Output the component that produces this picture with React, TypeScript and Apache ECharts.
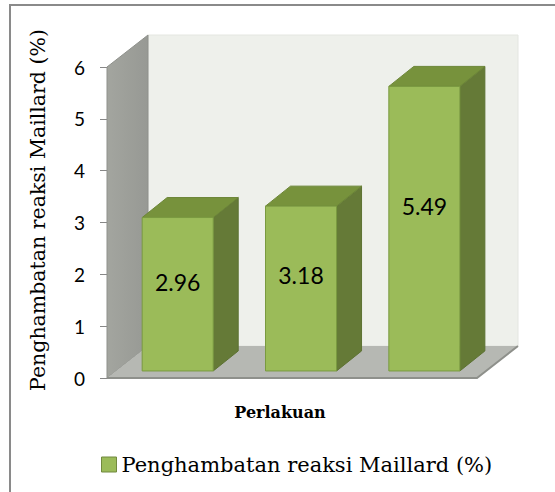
import React, { useEffect, useRef } from "react";
import * as echarts from "echarts";

const categories = ["P1", "P2", "P3"];
const values = [2.96, 3.18, 5.49];
const seriesName = "Penghambatan reaksi Maillard (%)";
const yAxisTitle = "Penghambatan reaksi Maillard (%)";
const xAxisTitle = "Perlakuan";
const yMin = 0;
const yMax = 6;
const yInterval = 1;

// 3D look parameters (styles)
const DX = 41;
const DY = -32;
const BAR_F0 = 0.22;
const BAR_DX = 25;
const BAR_DY = -20;
const BAR_W = 0.576;
const LABEL_FRAC = 0.58;
const SERIF = "DejaVu Serif";

export default function App() {
  const ref = useRef<HTMLDivElement>(null);
  useEffect(() => {
    if (!ref.current) return;
    const chart = echarts.init(ref.current, undefined, { renderer: "svg" });
    const option: any = {
      animation: false,
      backgroundColor: "#ffffff",
      grid: { left: 107, top: 67, width: 370, height: 311 },
      legend: {
        data: [seriesName],
        left: 96,
        top: 449,
        icon: "rect",
        itemWidth: 15,
        itemHeight: 15,
        itemGap: 6,
        itemStyle: { color: "#9bbb59", borderColor: "#71893f", borderWidth: 1 },
        textStyle: { fontFamily: SERIF, fontSize: 21, color: "#000" },
      },
      xAxis: {
        type: "category",
        data: categories,
        axisLine: { show: false },
        axisTick: { show: false },
        axisLabel: { show: false },
        splitLine: { show: false },
      },
      yAxis: {
        type: "value",
        min: yMin,
        max: yMax,
        interval: yInterval,
        axisLine: { show: true, lineStyle: { color: "#878787", width: 1 } },
        axisTick: { show: true, length: 7, lineStyle: { color: "#878787" } },
        axisLabel: { fontFamily: "Lato", fontSize: 19, color: "#000", margin: 22 },
        splitLine: { show: false },
      },
      graphic: [
        {
          type: "rect",
          shape: { x: 10, y: 5, width: 700, height: 700 },
          style: { fill: "none", stroke: "#8a8a8a", lineWidth: 2 },
          z: 100,
        },
        {
          type: "text",
          x: 38,
          y: 210,
          rotation: Math.PI / 2,
          style: {
            text: yAxisTitle,
            fontFamily: SERIF,
            fontSize: 20.5,
            fill: "#000",
            align: "center",
            verticalAlign: "middle",
          },
        },
        {
          type: "text",
          x: 280,
          y: 412,
          style: {
            text: xAxisTitle,
            fontFamily: SERIF,
            fontWeight: "bold",
            fontSize: 16,
            fill: "#000",
            align: "center",
            verticalAlign: "middle",
          },
        },
      ],
      series: [
        {
          type: "custom",
          name: "walls",
          clip: false,
          silent: true,
          z: 1,
          data: [[0, 0]],
          encode: { x: 0, y: 1 },
          renderItem: (params: any) => {
            const cs = params.coordSys;
            const x = cs.x, y = cs.y, w = cs.width, h = cs.height;
            return {
              type: "group",
              children: [
                {
                  type: "polygon",
                  shape: { points: [[x + DX, y + DY], [x + w + DX, y + DY], [x + w + DX, y + h + DY], [x + DX, y + h + DY]] },
                  style: { fill: "#eef0eb", stroke: "#e4e6e1", lineWidth: 1 },
                },
                {
                  type: "polygon",
                  shape: { points: [[x, y], [x + DX, y + DY], [x + DX, y + h + DY], [x, y + h]] },
                  style: {
                    fill: new echarts.graphic.LinearGradient(0, 0, 1, 0, [
                      { offset: 0, color: "#a3a59f" },
                      { offset: 1, color: "#979994" },
                    ]),
                    stroke: "#8f918c",
                    lineWidth: 1,
                  },
                },
                {
                  type: "polygon",
                  shape: { points: [[x, y + h], [x + DX, y + h + DY], [x + w + DX, y + h + DY], [x + w, y + h]] },
                  style: { fill: "#b6b8b3" },
                },
                {
                  type: "polyline",
                  shape: { points: [[x, y + h], [x + w, y + h], [x + w + DX, y + h + DY]] },
                  style: { fill: "none", stroke: "#8e908b", lineWidth: 2 },
                },
              ],
            };
          },
        },
        {
          type: "custom",
          name: seriesName,
          clip: false,
          z: 2,
          itemStyle: { color: "#9bbb59" },
          data: categories.map((c, i) => [i, values[i]]),
          encode: { x: 0, y: 1 },
          renderItem: (params: any, api: any) => {
            const idx = api.value(0);
            const v = api.value(1);
            const base = api.coord([idx, 0]);
            const top = api.coord([idx, v]);
            const band = api.size([1, 0])[0];
            const bw = band * BAR_W;
            const ox = DX * BAR_F0, oy = DY * BAR_F0;
            const x0 = base[0] - bw / 2 + ox;
            const x1 = x0 + bw;
            const yb = base[1] + oy;
            const yt = top[1] + oy;
            return {
              type: "group",
              children: [
                {
                  type: "polygon",
                  shape: { points: [[x1, yt], [x1 + BAR_DX, yt + BAR_DY], [x1 + BAR_DX, yb + BAR_DY], [x1, yb]] },
                  style: { fill: "#657a37", stroke: "#5d7233", lineWidth: 1 },
                },
                {
                  type: "polygon",
                  shape: { points: [[x0, yt], [x1, yt], [x1 + BAR_DX, yt + BAR_DY], [x0 + BAR_DX, yt + BAR_DY]] },
                  style: { fill: "#77923c", stroke: "#6c8637", lineWidth: 1 },
                },
                {
                  type: "rect",
                  shape: { x: x0, y: yt, width: bw, height: yb - yt },
                  style: { fill: "#9bbb59", stroke: "#7a9a40", lineWidth: 1 },
                },
                {
                  type: "text",
                  style: {
                    text: v.toFixed(2),
                    x: (x0 + x1) / 2,
                    y: yb - LABEL_FRAC * (yb - yt),
                    align: "center",
                    verticalAlign: "middle",
                    fontFamily: "Lato",
                    fontSize: 23,
                    fill: "#000",
                  },
                },
              ],
            };
          },
        },
      ],
    };
    chart.setOption(option);
    return () => chart.dispose();
  }, []);
  return (
    <div
      ref={ref}
      style={{ position: "fixed", left: 0, top: 0, width: 555, height: 492 }}
    />
  );
}
